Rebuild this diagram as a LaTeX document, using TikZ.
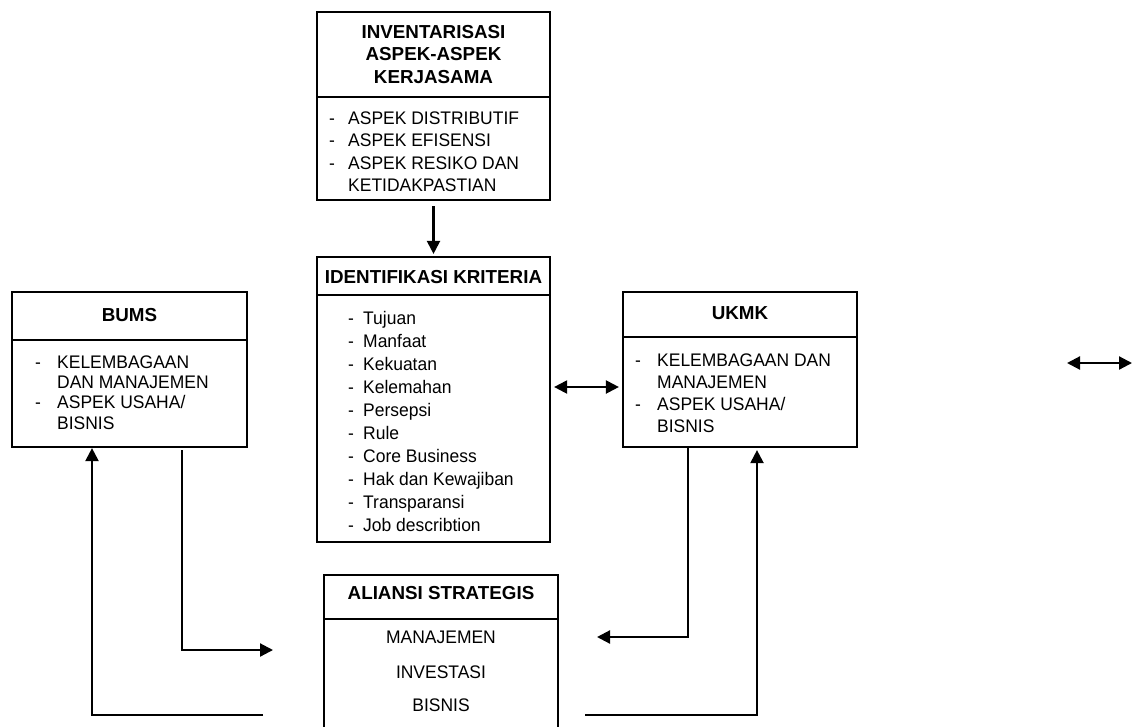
\documentclass[tikz,border=0pt]{standalone}
\usepackage{fontspec}
\setmainfont{Liberation Sans}
\newfontfamily\nfont[FakeStretch=0.96]{Liberation Sans}
\usetikzlibrary{arrows.meta,calc}
\begin{document}
\begin{tikzpicture}[x=1pt,y=-1pt,
  box/.style={draw, line width=2.2pt, inner sep=0pt},
  divline/.style={line width=2.2pt},
  txt/.style={font=\nfont\fontsize{18.2}{22}\selectfont, inner sep=0pt, text height=13pt, text depth=0pt},
  ctxt/.style={txt, anchor=center},
  ltxt/.style={txt, anchor=west},
  ttl/.style={font=\fontsize{18.8}{22.5}\selectfont\bfseries, inner sep=0pt, align=center},
  tip/.tip={Triangle[length=13pt,width=13pt]},
  arr/.style={line width=2.2pt, -tip},
  darr/.style={line width=2.2pt, tip-tip}
]
\clip (0,0) rectangle (1139,726);
\fill[white] (0,0) rectangle (1139,726);

% boxes
\node[box, minimum width=233pt, minimum height=188pt] (inv) at (433.5,106) {};
\draw[divline] (317,97) -- (550,97);
\node[box, minimum width=233pt, minimum height=285pt] (idk) at (433.5,399.5) {};
\draw[divline] (317,295) -- (550,295);
\node[box, minimum width=235pt, minimum height=155pt] (bums) at (129.5,369.5) {};
\draw[divline] (12,340) -- (247,340);
\node[box, minimum width=234pt, minimum height=155pt] (ukmk) at (740,369.5) {};
\draw[divline] (623,337) -- (857,337);
\node[box, minimum width=234pt, minimum height=180pt] (ali) at (441,665) {};
\draw[divline] (324,619) -- (558,619);

% titles
\node[ttl] (t1) at (433.5,54.5) {INVENTARISASI\\ASPEK-ASPEK\\KERJASAMA};
\node[ttl] (t2) at (433.5,277) {IDENTIFIKASI KRITERIA};
\node[ttl] (t3) at (129.5,315) {BUMS};
\node[ttl] (t4) at (740,313) {UKMK};
\node[ttl] (t5) at (441,593) {ALIANSI STRATEGIS};

% inv list
\node[ltxt] (i1d) at (329,118) {-};
\node[ltxt] (i1) at (348,118) {ASPEK DISTRIBUTIF};
\node[ltxt] (i2d) at (329,140) {-};
\node[ltxt] (i2) at (348,140) {ASPEK EFISENSI};
\node[ltxt] (i3d) at (329,163) {-};
\node[ltxt] (i3) at (348,163) {ASPEK RESIKO DAN};
\node[ltxt] (i4) at (348,185) {KETIDAKPASTIAN};

% idk list
\foreach \t [count=\i from 0] in {Tujuan,Manfaat,Kekuatan,Kelemahan,Persepsi,Rule,Core Business,Hak dan Kewajiban,Transparansi,Job describtion}{
  \node[ltxt] (kd\i) at (348,318+23*\i) {-};
  \node[ltxt] (k\i) at (363,318+23*\i) {\t};
}

% bums list
\node[ltxt] (b1d) at (35,362) {-};
\node[ltxt] (b1) at (57,362) {KELEMBAGAAN};
\node[ltxt] (b2) at (57,382) {DAN MANAJEMEN};
\node[ltxt] (b3d) at (35,402) {-};
\node[ltxt] (b3) at (57,402) {ASPEK USAHA/};
\node[ltxt] (b4) at (57,423) {BISNIS};

% ukmk list
\node[ltxt] (u1d) at (635,360) {-};
\node[ltxt] (u1) at (657,360) {KELEMBAGAAN DAN};
\node[ltxt] (u2) at (657,382) {MANAJEMEN};
\node[ltxt] (u3d) at (635,404) {-};
\node[ltxt] (u3) at (657,404) {ASPEK USAHA/};
\node[ltxt] (u4) at (657,426) {BISNIS};

% aliansi list
\node[ctxt] (a1) at (441,637) {MANAJEMEN};
\node[ctxt] (a2) at (441,672) {INVESTASI};
\node[ctxt] (a3) at (441,705) {BISNIS};

% helper coordinates
\coordinate (ym) at (0,387);
\coordinate (xa) at (92,0);
\coordinate (xb) at (182,0);
\coordinate (xc) at (688,0);
\coordinate (xd) at (757,0);
\coordinate (la) at (263,715);
\coordinate (lb) at (273,650);
\coordinate (ra) at (585,715);
\coordinate (rb) at (597,637);
\coordinate (fr1) at (1067,363);
\coordinate (fr2) at (1132,363);

% connectors
\draw[arr, shorten <=5pt, shorten >=2pt] (inv.south) -- (idk.north);
\draw[darr, shorten <=3pt, shorten >=3pt] (idk.east |- ym) -- (ukmk.west |- ym);
\draw[arr] (la) -| (bums.south -| xa);
\draw[arr, shorten <=2pt] (bums.south -| xb) |- (lb);
\draw[arr] (ukmk.south -| xc) |- (rb);
\draw[arr, shorten >=2pt] (ra) -| (ukmk.south -| xd);
\draw[darr] (fr1) -- (fr2);
\end{tikzpicture}
\end{document}
